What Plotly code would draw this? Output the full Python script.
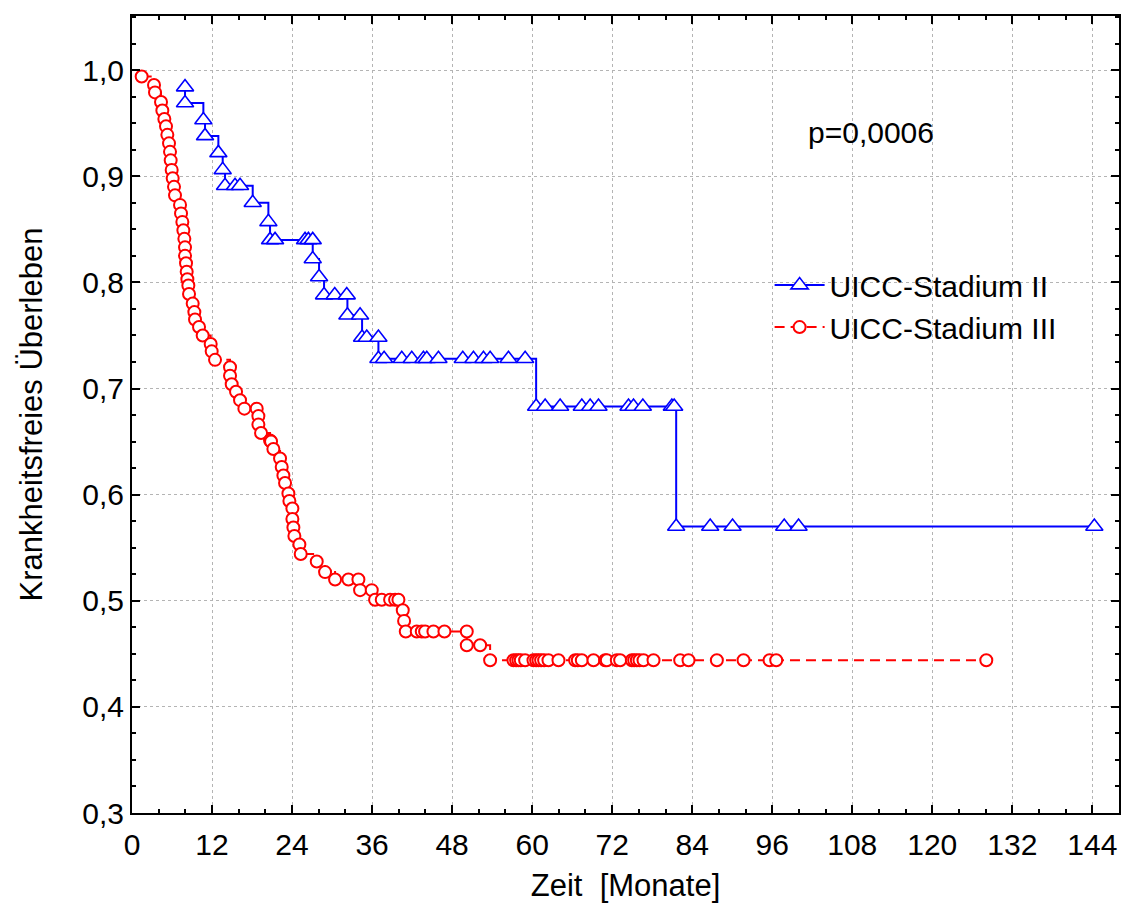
import plotly.graph_objects as go

# ---- data ----
stage2_t = [7.95, 7.95, 10.7, 10.95, 12.95, 13.6, 13.95, 15.45, 16.2, 18.1, 20.45, 20.7, 21.45,
            25.95, 26.45, 27.1, 27.1, 28.05, 28.8, 30.4, 32.2, 32.3, 34.2, 34.5, 35.2, 36.95,
            36.95, 37.8, 40.45, 41.95, 43.7, 44.2, 45.95, 49.6, 51.2, 52.7, 53.7, 56.45, 58.95,
            60.6, 61.95, 64.2, 67.45, 68.7, 69.95, 74.45, 75.2, 76.6, 80.95, 81.3,
            81.6, 86.7, 90.05, 97.8, 99.95, 144.3]
stage2_s = [0.984, 0.969, 0.953, 0.938, 0.922, 0.906, 0.891, 0.891, 0.891, 0.875, 0.857, 0.840, 0.840,
            0.840, 0.840, 0.840, 0.822, 0.805, 0.788, 0.788, 0.788, 0.769, 0.769, 0.748, 0.748, 0.748,
            0.728, 0.728, 0.728, 0.728, 0.728, 0.728, 0.728, 0.728, 0.728, 0.728, 0.728, 0.728, 0.728,
            0.683, 0.683, 0.683, 0.683, 0.683, 0.683, 0.683, 0.683, 0.683, 0.683, 0.683,
            0.570, 0.570, 0.570, 0.570, 0.570, 0.570]

stage3_t = [1.45, 3.3, 3.45, 4.35, 4.55, 4.85, 5.1, 5.3, 5.55, 5.7, 5.8, 5.95, 6.1, 6.3, 6.45,
            7.2, 7.35, 7.55, 7.7, 7.85, 7.95, 7.95, 8.1, 8.2, 8.3, 8.45, 8.55, 9.1, 9.35, 9.45,
            10.05, 10.6, 11.8, 11.95, 12.45, 14.7, 14.7, 14.95, 15.6, 16.2, 16.85, 18.7, 18.95,
            18.95, 19.35, 20.7, 20.85, 21.2, 22.2, 22.45, 22.7, 22.95, 23.45, 23.6, 24.05, 24.05,
            24.2, 24.35, 25.1, 25.3, 27.7, 28.95, 30.45, 32.45, 33.95, 34.2, 35.95, 36.45, 37.45,
            38.7, 39.45, 39.95, 40.6, 40.8, 41.05, 42.7, 43.45, 43.95, 45.2, 46.85, 50.2, 50.2,
            52.2, 53.7, 57.2, 57.6, 57.95, 58.3, 58.95, 60.2, 60.6, 60.95, 61.35, 61.8, 62.45,
            63.95, 66.45, 66.85, 67.45, 69.2, 70.95, 71.2, 72.7, 73.2, 74.95, 75.3, 75.7, 76.1,
            76.7, 78.2, 82.2, 83.45, 87.7, 91.7, 95.6, 96.6, 128.1]
stage3_s = [0.994, 0.986, 0.979, 0.970, 0.962, 0.954, 0.947, 0.939, 0.931, 0.923, 0.915, 0.906,
            0.898, 0.890, 0.882, 0.873, 0.865, 0.857, 0.849, 0.841, 0.833, 0.825, 0.818, 0.810,
            0.803, 0.797, 0.789, 0.780, 0.772, 0.765, 0.758, 0.750, 0.742, 0.735, 0.727, 0.720,
            0.712, 0.704, 0.697, 0.689, 0.681, 0.681, 0.674, 0.666, 0.658, 0.651, 0.650, 0.643,
            0.634, 0.626, 0.618, 0.611, 0.601, 0.594, 0.587, 0.577, 0.569, 0.561, 0.553, 0.544,
            0.537, 0.527, 0.520, 0.520, 0.520, 0.510, 0.510, 0.501, 0.501, 0.501, 0.501, 0.501,
            0.491, 0.481, 0.471, 0.471, 0.471, 0.471, 0.471, 0.471, 0.471, 0.458, 0.458, 0.444,
            0.444, 0.444, 0.444, 0.444, 0.444, 0.444, 0.444, 0.444, 0.444, 0.444, 0.444, 0.444,
            0.444, 0.444, 0.444, 0.444, 0.444, 0.444, 0.444, 0.444, 0.444, 0.444, 0.444, 0.444,
            0.444, 0.444, 0.444, 0.444, 0.444, 0.444, 0.444, 0.444, 0.444]

x_ticks = [0, 12, 24, 36, 48, 60, 72, 84, 96, 108, 120, 132, 144]
y_ticks = [0.3, 0.4, 0.5, 0.6, 0.7, 0.8, 0.9, 1.0]
y_tick_labels = ["0,3", "0,4", "0,5", "0,6", "0,7", "0,8", "0,9", "1,0"]
series_names = ["UICC-Stadium II", "UICC-Stadium III"]
p_text = "p=0,0006"

FONT = "Liberation Sans, Arial, sans-serif"
FS = 30

fig = go.Figure()
fig.add_trace(go.Scatter(
    x=stage2_t, y=stage2_s, name=series_names[0], mode="lines+markers",
    line=dict(color="#0000ff", width=2, shape="hv"),
    marker=dict(symbol="triangle-up", size=15, color="white", line=dict(width=1.6, color="#0000ff")),
))
fig.add_trace(go.Scatter(
    x=stage3_t, y=stage3_s, name=series_names[1], mode="lines+markers",
    line=dict(color="#ff0000", width=2, shape="hv", dash="10px,6px"),
    marker=dict(symbol="circle", size=12, color="white", line=dict(width=2, color="#ff0000")),
))

fig.add_annotation(x=101.0, y=0.941, xref="x", yref="y", text=p_text, showarrow=False,
                   xanchor="left", yanchor="middle", font=dict(family=FONT, size=FS, color="black"))

axis_common = dict(
    showline=True, linecolor="black", linewidth=2, mirror="ticks",
    ticks="inside", ticklen=8, tickwidth=2, tickcolor="black",
    showgrid=True, gridcolor="#b4b4b4", griddash="dot", gridwidth=1,
    zeroline=False, tickfont=dict(family=FONT, size=FS, color="black"),
)

fig.update_xaxes(
    range=[0, 148], tickvals=x_ticks, **axis_common, ticklabelstandoff=4,
    minor=dict(dtick=4, tick0=0, ticks="inside", ticklen=4, tickwidth=1.5, tickcolor="black", showgrid=False),
    title=dict(text="Zeit  [Monate]", font=dict(family=FONT, size=31, color="black"), standoff=14),
)
fig.update_yaxes(
    range=[0.3, 1.051], tickvals=y_ticks, ticktext=y_tick_labels, **axis_common,
    minor=dict(dtick=0.025, tick0=0.3, ticks="inside", ticklen=4, tickwidth=1.5, tickcolor="black", showgrid=False),
    title=dict(text="Krankheitsfreies Überleben", font=dict(family=FONT, size=31, color="black"), standoff=30),
)

fig.update_layout(
    width=1125, height=916,
    margin=dict(l=132, r=6, t=16, b=103, autoexpand=False),
    paper_bgcolor="white", plot_bgcolor="white",
    font=dict(family=FONT, size=FS, color="black"),
    legend=dict(x=0.646, y=0.695, xanchor="left", yanchor="top", bgcolor="rgba(0,0,0,0)",
                borderwidth=0, font=dict(family=FONT, size=FS, color="black"),
                itemwidth=50, tracegroupgap=0),
)

fig.write_html("out.html")
